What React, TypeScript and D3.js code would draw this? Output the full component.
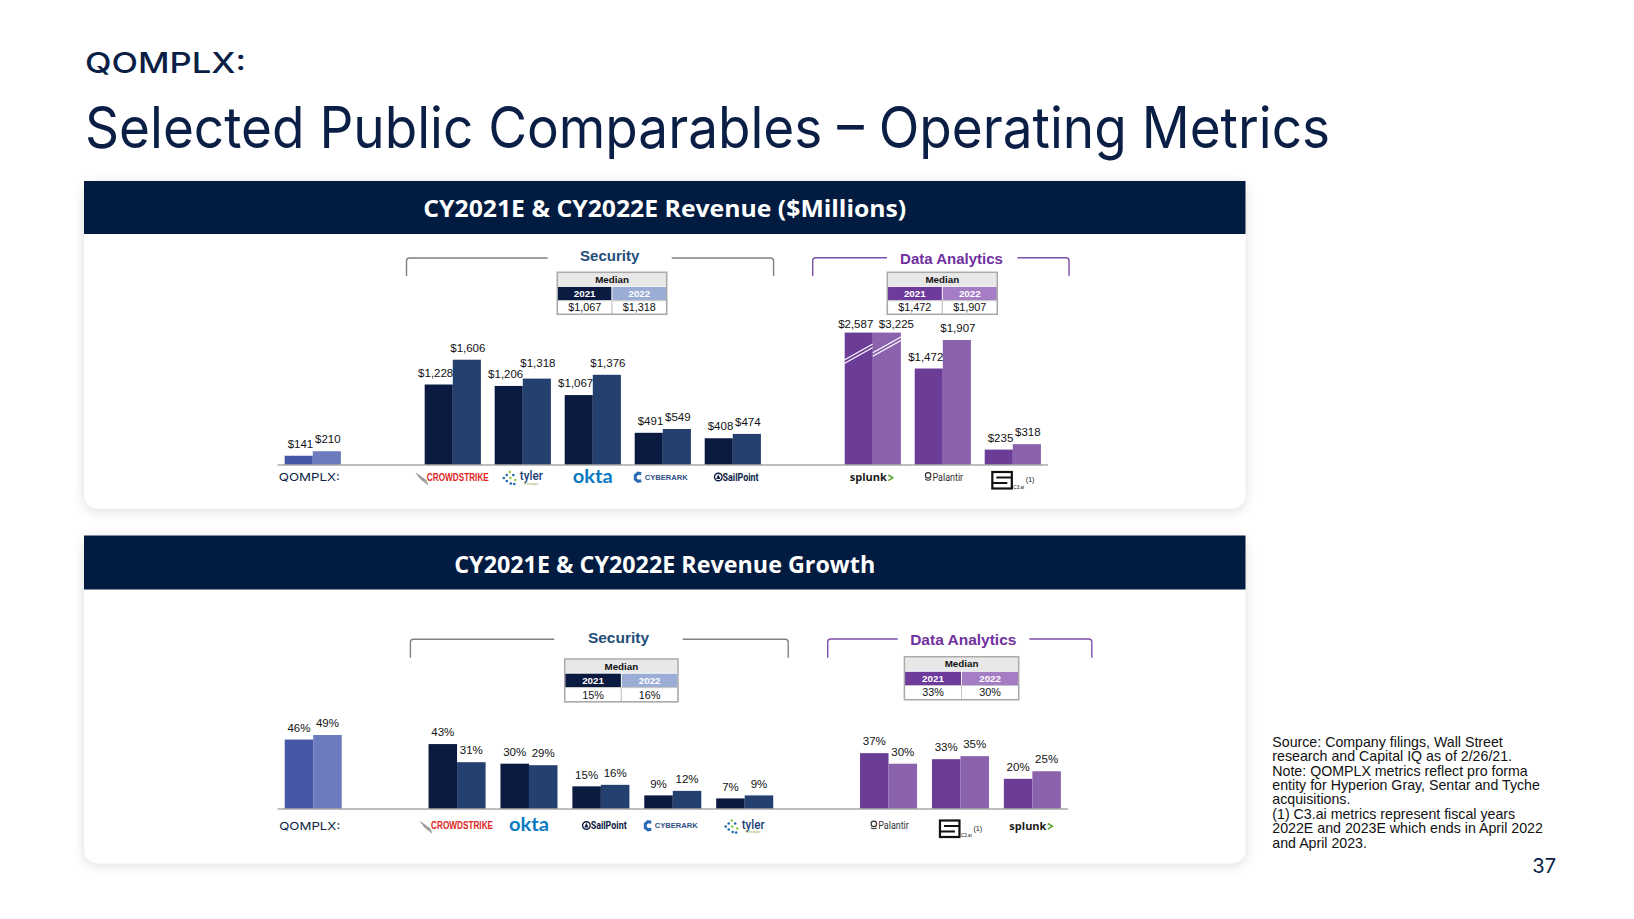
import * as d3 from 'd3';
import React from 'react';

const W = 1634;
const H = 919;
const NAVY = '#021b41';
const INK = '#0b1f46';
const SANS = "'Liberation Sans', Arial, sans-serif";

// CY2021E & CY2022E revenue, $ millions
const revenueCompanies = ['QOMPLX', 'CrowdStrike', 'Tyler', 'Okta', 'CyberArk', 'SailPoint', 'Splunk', 'Palantir', 'C3.ai'];
const revenueSectors = ['QOMPLX', 'Security', 'Security', 'Security', 'Security', 'Security', 'Data Analytics', 'Data Analytics', 'Data Analytics'];
const revenue2021 = [141, 1228, 1206, 1067, 491, 408, 2587, 1472, 235];
const revenue2022 = [210, 1606, 1318, 1376, 549, 474, 3225, 1907, 318];
const revenueMedianSecurity = ['$1,067', '$1,318'];
const revenueMedianAnalytics = ['$1,472', '$1,907'];

// CY2021E & CY2022E revenue growth, %
const growthCompanies = ['QOMPLX', 'CrowdStrike', 'Okta', 'SailPoint', 'CyberArk', 'Tyler', 'Palantir', 'C3.ai', 'Splunk'];
const growthSectors = ['QOMPLX', 'Security', 'Security', 'Security', 'Security', 'Security', 'Data Analytics', 'Data Analytics', 'Data Analytics'];
const growth2021 = [46, 43, 30, 15, 9, 7, 37, 33, 20];
const growth2022 = [49, 31, 29, 16, 12, 9, 30, 35, 25];
const growthMedianSecurity = ['15%', '16%'];
const growthMedianAnalytics = ['33%', '30%'];

const years = ['2021', '2022'];

const footnotes = [
  'Source: Company filings, Wall Street',
  'research and Capital IQ as of 2/26/21.',
  'Note: QOMPLX metrics reflect pro forma',
  'entity for Hyperion Gray, Sentar and Tyche',
  'acquisitions.',
  '(1) C3.ai metrics represent fiscal years',
  '2022E and 2023E which ends in April 2022',
  'and April 2023.',
];

const barColors: Record<string, string[]> = {
  QOMPLX: ['#4657a7', '#6b7bbe'],
  Security: ['#0a1a41', '#23406f'],
  'Data Analytics': ['#6b3d97', '#8b63ad'],
};
const tableColors: Record<string, string[]> = {
  Security: ['#0a1a41', '#9cadd5'],
  'Data Analytics': ['#6e3a9c', '#a57dc4'],
};
const sectionTitleColor: Record<string, string> = { Security: '#1f4e7a', 'Data Analytics': '#7030a0' };
const bracketColor: Record<string, string> = { Security: '#808080', 'Data Analytics': '#7d4fab' };

interface Section {
  key: string;
  bx0: number;
  bx1: number;
  by: number;
  bBottom: number;
  gap0: number;
  gap1: number;
  tx: number;
  ty: number;
  fs: number;
  table: { x: number; y: number; w: number; rows: number[] };
  medians: string[];
}

interface Layout {
  top: number;
  headerH: number;
  bottom: number;
  left: number;
  right: number;
  title: string;
  titleY: number;
  titleLen: number;
  titleSize: number;
  x0: number;
  x1: number;
  padInner: number;
  padOuter: number;
  base: number;
  yMax: number;
  pxPerUnit: number;
  logoY: number;
  pairLabels: boolean;
  sections: Section[];
}

const revenueLayout: Layout = {
  top: 181,
  headerH: 53,
  bottom: 508.5,
  left: 84,
  right: 1245.5,
  title: 'CY2021E & CY2022E Revenue ($Millions)',
  titleY: 216.7,
  titleLen: 483,
  titleSize: 24,
  x0: 277.6,
  x1: 1048,
  padInner: 0.197,
  padOuter: 0.101,
  base: 465,
  yMax: 2020,
  pxPerUnit: 0.06555,
  logoY: 477,
  pairLabels: true,
  sections: [
    {
      key: 'Security', bx0: 406.5, bx1: 773.6, by: 258, bBottom: 276, gap0: 547.6, gap1: 671.7,
      tx: 609.7, ty: 260.7, fs: 15,
      table: { x: 557.3, y: 272.3, w: 109.4, rows: [14.2, 14.2, 13.6] },
      medians: revenueMedianSecurity,
    },
    {
      key: 'Data Analytics', bx0: 812.7, bx1: 1069, by: 257.7, bBottom: 276, gap0: 887, gap1: 1017.5,
      tx: 951.5, ty: 263.6, fs: 15,
      table: { x: 887.3, y: 272.3, w: 110, rows: [14.2, 14.2, 13.6] },
      medians: revenueMedianAnalytics,
    },
  ],
};

const growthLayout: Layout = {
  top: 535.5,
  headerH: 54,
  bottom: 863.3,
  left: 84,
  right: 1245.5,
  title: 'CY2021E & CY2022E Revenue Growth',
  titleY: 572.7,
  titleLen: 421,
  titleSize: 23,
  x0: 277.6,
  x1: 1068,
  padInner: 0.207,
  padOuter: 0.099,
  base: 809,
  yMax: 50,
  pxPerUnit: 1.51,
  logoY: 825.5,
  pairLabels: false,
  sections: [
    {
      key: 'Security', bx0: 410.4, bx1: 788.2, by: 639.3, bBottom: 657.7, gap0: 554.3, gap1: 682.7,
      tx: 618.5, ty: 643, fs: 15.5,
      table: { x: 564.7, y: 659, w: 113.3, rows: [14.2, 14.4, 14.2] },
      medians: growthMedianSecurity,
    },
    {
      key: 'Data Analytics', bx0: 827.7, bx1: 1091.8, by: 639, bBottom: 657.7, gap0: 897.7, gap1: 1029.3,
      tx: 963.3, ty: 645.3, fs: 15.5,
      table: { x: 904.4, y: 656.7, w: 114.3, rows: [14.6, 14.2, 14.2] },
      medians: growthMedianAnalytics,
    },
  ],
};

const LABEL_SIZE = 11.5;

// rough Arial advance widths, in em
function textWidth(s: string, size: number) {
  let em = 0;
  for (const ch of s) em += ch === ',' ? 0.278 : ch === '%' ? 0.889 : 0.556;
  return em * size;
}

function slotDomain(companies: string[], sectors: string[]) {
  const out: string[] = [];
  companies.forEach((c, i) => {
    if (i > 0 && sectors[i] !== sectors[i - 1]) out.push(`gap-${i}`);
    out.push(c);
  });
  return out;
}

function Bracket({ s }: { s: Section }) {
  const r = 3;
  const d =
    `M${s.bx0},${s.bBottom} V${s.by + r} Q${s.bx0},${s.by} ${s.bx0 + r},${s.by} H${s.gap0} ` +
    `M${s.gap1},${s.by} H${s.bx1 - r} Q${s.bx1},${s.by} ${s.bx1},${s.by + r} V${s.bBottom}`;
  return <path d={d} fill="none" stroke={bracketColor[s.key]} strokeWidth={1.4} />;
}

function MedianTable({ s }: { s: Section }) {
  const { x, y, w, rows } = s.table;
  const [h1, h2, h3] = rows;
  const half = w / 2;
  const colors = tableColors[s.key];
  const y2 = y + h1;
  const y3 = y2 + h2;
  return (
    <g fontFamily={SANS}>
      <rect x={x} y={y} width={w} height={h1} fill="#e8e8e8" />
      {years.map((yr, j) => (
        <g key={yr}>
          <rect x={x + j * half} y={y2} width={half} height={h2} fill={colors[j]} stroke="#ffffff" strokeWidth={0.8} />
          <text x={x + j * half + half / 2} y={y2 + h2 / 2 + 3.5} textAnchor="middle" fontSize={9.8} fontWeight="bold" fill="#ffffff">
            {yr}
          </text>
          <rect x={x + j * half} y={y3} width={half} height={h3} fill="#ffffff" stroke="#c4c4c4" strokeWidth={1} />
          <text x={x + j * half + half / 2} y={y3 + h3 / 2 + 3.8} textAnchor="middle" fontSize={10.8} fill="#111">
            {s.medians[j]}
          </text>
        </g>
      ))}
      <text x={x + half} y={y + h1 / 2 + 3.4} textAnchor="middle" fontSize={9.8} fontWeight="bold" fill="#111">
        Median
      </text>
      <rect x={x} y={y} width={w} height={h1 + h2 + h3} fill="none" stroke="#aaaaaa" strokeWidth={1.5} />
    </g>
  );
}

function Logo({ name, cx, cy }: { name: string; cx: number; cy: number }) {
  switch (name) {
    case 'QOMPLX':
      return (
        <text x={cx - 34} y={cy + 4} fontFamily="Inter, sans-serif" fontSize={11} fill={INK} textLength={61} lengthAdjust="spacingAndGlyphs">
          QOMPLX:
        </text>
      );
    case 'CrowdStrike':
      return (
        <g>
          {[0, 1, 2, 3].map((k) => (
            <line key={k} x1={cx - 37 + k * 1.2} y1={cy - 4 + k * 1.6} x2={cx - 26 + k * 0.4} y2={cy + 4 + k * 1.3} stroke="#8a8a8a" strokeWidth={0.9} />
          ))}
          <text x={cx - 26} y={cy + 3.6} fontFamily="'Liberation Sans Narrow', 'Liberation Sans', Arial" fontWeight="bold" fontSize={10} fill="#e0261f" textLength={62} lengthAdjust="spacingAndGlyphs">
            CROWDSTRIKE
          </text>
        </g>
      );
    case 'Tyler': {
      const dots: [number, number, string][] = [
        [-19, 1, '#2265b0'], [-16, -2, '#2265b0'], [-13, -5, '#8dc63f'], [-16, 4, '#2265b0'],
        [-12.5, 1, '#8dc63f'], [-9.5, -2, '#2265b0'], [-12, 6.5, '#2265b0'], [-7.5, 3, '#8dc63f'], [-8.5, 7, '#2265b0'],
      ];
      return (
        <g>
          {dots.map(([dx, dy, c], k) => (
            <circle key={k} cx={cx + dx} cy={cy + dy} r={1.3} fill={c} />
          ))}
          <text x={cx - 3} y={cy + 3.4} fontFamily="Roboto, sans-serif" fontWeight={500} fontSize={12.5} fill="#1c3f7a" textLength={23} lengthAdjust="spacingAndGlyphs">
            tyler
          </text>
          <text x={cx + 1} y={cy + 7.8} fontFamily={SANS} fontSize={2.6} fill="#8aa84a">
            technologies
          </text>
        </g>
      );
    }
    case 'Okta':
      return (
        <text x={cx} y={cy + 5.5} textAnchor="middle" fontFamily="Lato, sans-serif" fontWeight="bold" fontSize={18} fill="#0a7ac2" textLength={40} lengthAdjust="spacingAndGlyphs">
          okta
        </text>
      );
    case 'CyberArk':
      return (
        <g>
          <path d={`M${cx - 21.5},${cy - 3.2} L${cx - 24.8},${cy - 3.8} L${cx - 27.5},${cy - 1.5} L${cx - 27.5},${cy + 2.3} L${cx - 24.8},${cy + 4.3} L${cx - 21.5},${cy + 3.7}`} fill="none" stroke="#2c6cb6" strokeWidth={3} />
          <text x={cx - 18} y={cy + 2.8} fontFamily={SANS} fontWeight="bold" fontSize={7.5} fill="#2e4f86" textLength={43} lengthAdjust="spacingAndGlyphs">
            CYBERARK
          </text>
        </g>
      );
    case 'SailPoint':
      return (
        <g>
          <circle cx={cx - 14.5} cy={cy} r={3.8} fill="none" stroke="#0d2145" strokeWidth={1.4} />
          <path d={`M${cx - 14.5},${cy - 2.8} L${cx - 12.4},${cy + 2.1} L${cx - 16.6},${cy + 2.1} Z`} fill="#0d2145" />
          <text x={cx - 10.2} y={cy + 3.7} fontFamily="Roboto, sans-serif" fontWeight="bold" fontSize={10.8} fill="#0d2145" textLength={36} lengthAdjust="spacingAndGlyphs">
            SailPoint
          </text>
        </g>
      );
    case 'Splunk':
      return (
        <g>
          <text x={cx - 23} y={cy + 4} fontFamily="'Open Sans', sans-serif" fontWeight="bold" fontSize={11} fill="#1a1a1a">
            splunk
          </text>
          <path d={`M${cx + 15.5},${cy - 2} L${cx + 20},${cy + 0.8} L${cx + 15.5},${cy + 3.6}`} fill="none" stroke="#65a637" strokeWidth={1.6} />
        </g>
      );
    case 'Palantir':
      return (
        <g>
          <circle cx={cx - 14.7} cy={cy - 1.6} r={2.7} fill="none" stroke="#333" strokeWidth={1.2} />
          <path d={`M${cx - 17.6},${cy + 2.3} Q${cx - 14.7},${cy + 4.2} ${cx - 11.8},${cy + 2.3}`} fill="none" stroke="#333" strokeWidth={1.1} />
          <text x={cx - 10.3} y={cy + 3.5} fontFamily="Roboto, sans-serif" fontSize={10} fill="#333" textLength={30.6} lengthAdjust="spacingAndGlyphs">
            Palantir
          </text>
        </g>
      );
    case 'C3.ai': {
      const bx = cx - 20.5;
      const by = cy - 5;
      return (
        <g>
          <rect x={bx} y={by} width={19.5} height={16.5} fill="none" stroke="#111" strokeWidth={2.2} />
          <path d={`M${bx + 4},${by + 5.5} H${bx + 19.5} M${bx},${by + 11} H${bx + 15}`} stroke="#111" strokeWidth={2} />
          <text x={cx + 0.5} y={cy + 11.5} fontFamily={SANS} fontSize={4.6} fill="#111">
            C3.ai
          </text>
          <text x={cx + 13} y={cy + 5} fontFamily={SANS} fontSize={7} fill="#111">
            (1)
          </text>
        </g>
      );
    }
    default:
      return null;
  }
}

function Panel({
  L,
  companies,
  sectors,
  values2021,
  values2022,
  fmt,
}: {
  L: Layout;
  companies: string[];
  sectors: string[];
  values2021: number[];
  values2022: number[];
  fmt: (v: number) => string;
}) {
  const x = d3
    .scaleBand<string>()
    .domain(slotDomain(companies, sectors))
    .range([L.x0, L.x1])
    .paddingInner(L.padInner)
    .paddingOuter(L.padOuter);
  const xYear = d3.scaleBand<string>().domain(years).range([0, x.bandwidth()]);
  const y = d3
    .scaleLinear()
    .domain([0, L.yMax])
    .range([L.base, L.base - L.yMax * L.pxPerUnit]);
  const bw = xYear.bandwidth();

  return (
    <g>
      <rect x={L.left} y={L.top} width={L.right - L.left} height={L.bottom - L.top} rx={14} fill="#fff" filter="url(#cardShadow)" />
      <rect x={L.left} y={L.top} width={L.right - L.left} height={L.headerH} fill={NAVY} />
      <text
        x={(L.left + L.right) / 2}
        y={L.titleY}
        textAnchor="middle"
        fontFamily="'Open Sans', sans-serif"
        fontWeight="bold"
        fontSize={L.titleSize}
        fill="#fff"
        textLength={L.titleLen}
        lengthAdjust="spacingAndGlyphs"
      >
        {L.title}
      </text>

      {L.sections.map((s) => (
        <g key={s.key}>
          <Bracket s={s} />
          <text x={s.tx} y={s.ty} textAnchor="middle" fontFamily={SANS} fontWeight="bold" fontSize={s.fs} fill={sectionTitleColor[s.key]}>
            {s.key}
          </text>
          <MedianTable s={s} />
        </g>
      ))}

      {companies.map((c, i) => {
        const colors = barColors[sectors[i]];
        const vals = [values2021[i], values2022[i]];
        const gx = x(c)!;
        const bars = vals.map((v, j) => {
          const bx = gx + xYear(years[j])!;
          const clipped = v > L.yMax;
          const top = y(Math.min(v, L.yMax));
          return { v, j, bx, clipped, top };
        });

        // label placement: pair mode hugs the 2021 label to its bar's right edge
        const labels = bars.map((b) => {
          let lx = b.bx + bw / 2;
          let anchor: 'start' | 'middle' | 'end' = 'middle';
          if (L.pairLabels && b.j === 0) {
            lx = b.bx + bw + 0.5;
            anchor = 'end';
          } else if (L.pairLabels && b.clipped) {
            lx = b.bx + 6;
            anchor = 'start';
          } else if (L.pairLabels) {
            lx = b.bx + bw / 2 + 1;
          }
          return { lx, anchor, ly: b.top - (b.clipped ? 4.5 : 7.8), text: fmt(b.v) };
        });
        if (L.pairLabels && labels[1].anchor === 'middle') {
          const start2 = labels[1].lx - textWidth(labels[1].text, LABEL_SIZE) / 2;
          if (start2 < labels[0].lx + 1) labels[1].ly = Math.min(labels[1].ly, labels[0].ly - 11.5);
        }

        return (
          <g key={c}>
            {bars.map((b) => {
              const mid = b.top + 21 - 7 * b.j;
              const dy = bw * 0.28;
              return (
                <g key={b.j}>
                  <rect x={b.bx} y={b.top} width={bw} height={L.base - b.top} fill={colors[b.j]} />
                  {b.clipped &&
                    [-1.8, 1.8].map((o) => (
                      <line key={o} x1={b.bx} y1={mid + o + dy} x2={b.bx + bw} y2={mid + o - dy} stroke="#fff" strokeWidth={1.2} />
                    ))}
                </g>
              );
            })}
            {labels.map((l, j) => (
              <text key={`l${j}`} x={l.lx} y={l.ly} textAnchor={l.anchor} fontFamily={SANS} fontSize={LABEL_SIZE} fill="#111">
                {l.text}
              </text>
            ))}
            <Logo name={c} cx={gx + x.bandwidth() / 2} cy={L.logoY} />
          </g>
        );
      })}

      <line x1={L.x0} x2={L.x1} y1={L.base} y2={L.base} stroke="#a9a9a9" strokeWidth={1.6} />
    </g>
  );
}

export default function App() {
  const money = (v: number) => '$' + d3.format(',')(v);
  const pct = (v: number) => `${v}%`;
  return (
    <svg width={W} height={H} viewBox={`0 0 ${W} ${H}`} style={{ position: 'absolute', left: 0, top: 0, display: 'block', background: '#fff' }}>
      <defs>
        <filter id="cardShadow" x="-5%" y="-10%" width="110%" height="125%">
          <feDropShadow dx={0} dy={2} stdDeviation={6} floodColor="#000" floodOpacity={0.14} />
        </filter>
      </defs>
      <rect width={W} height={H} fill="#fff" />

      <text x={85} y={73} fontFamily="Inter, sans-serif" fontSize={29} fontWeight={500} fill={INK} textLength={161} lengthAdjust="spacingAndGlyphs">
        QOMPLX:
      </text>
      <text x={85} y={148} fontFamily="Inter, sans-serif" fontSize={57} fill={INK} textLength={1245} lengthAdjust="spacingAndGlyphs">
        Selected Public Comparables – Operating Metrics
      </text>

      <Panel L={revenueLayout} companies={revenueCompanies} sectors={revenueSectors} values2021={revenue2021} values2022={revenue2022} fmt={money} />
      <Panel L={growthLayout} companies={growthCompanies} sectors={growthSectors} values2021={growth2021} values2022={growth2022} fmt={pct} />

      <g fontFamily={SANS} fontSize={14.2} fill="#111">
        {footnotes.map((t, i) => (
          <text key={i} x={1272.3} y={746.6 + i * 14.45}>
            {t}
          </text>
        ))}
      </g>
      <text x={1556} y={873} textAnchor="end" fontFamily="Inter, sans-serif" fontSize={20} fill={INK}>
        37
      </text>
    </svg>
  );
}
